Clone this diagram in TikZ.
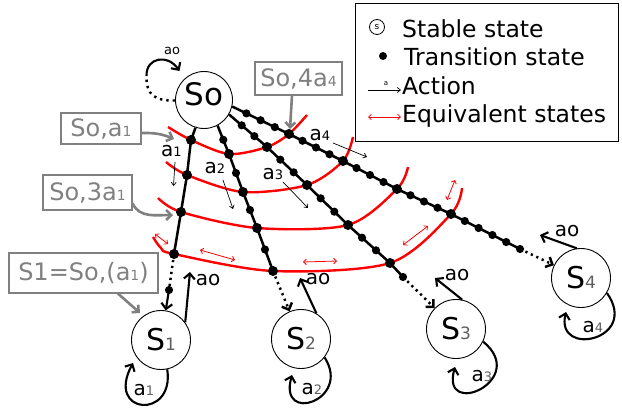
\documentclass[tikz,border=0pt]{standalone}
\usepackage{fontspec}
\setmainfont{DejaVu Sans}
\usetikzlibrary{arrows.meta,calc}
\definecolor{cgray}{RGB}{128,128,128}
\definecolor{dgray}{RGB}{95,95,95}
\newcommand{\fsz}[1]{\fontsize{#1}{#1}\selectfont}
\newcommand{\sm}[2]{{\fontsize{#1}{#1}\selectfont #2}}
\newcommand{\tdots}[3]{\foreach \i in {1,...,#3}{\fill ($(#1)!{\i/(#3+1)}!(#2)$) circle (4.1pt);}}
\begin{document}
\begin{tikzpicture}[x=1pt,y=-1pt,
  state/.style={circle,draw,line width=0.9pt,minimum size=59pt,inner sep=0pt},
  ray/.style={line width=2.5pt},
  dotseg/.style={line width=2.5pt,dash pattern=on 2.2pt off 3.8pt},
  eqarc/.style={red,line width=2.4pt},
  eqarr/.style={red,line width=0.8pt,{Straight Barb[length=2.8pt,width=5.5pt]}-{Straight Barb[length=2.8pt,width=5.5pt]}},
  act/.style={line width=0.7pt,-{Straight Barb[length=3.2pt,width=5pt]}},
  bigtip/.style={-{Straight Barb[length=5.5pt,width=11pt]}},
  bigarr/.style={line width=2.1pt,bigtip},
  callout/.style={draw=cgray,line width=1.2pt,text=cgray,inner sep=0pt,font=\fsz{24}},
  callarr/.style={draw=cgray,line width=2.6pt,-{Straight Barb[length=5pt,width=10pt]}},
  lbl/.style={inner sep=0pt,font=\fsz{20}},
  legtext/.style={anchor=base west,inner sep=0pt,font=\fsz{23.5}},
]
\useasboundingbox (0,0) rectangle (622,410);

% ---------- states
\node[state,minimum size=57pt,text depth=12pt,font=\fsz{31}] (S0) at (204,100) {So};
\node[state] (S1) at (161,340) {\fsz{30}S\sm{17}{\textcolor{dgray}{1}}};
\node[state] (S2) at (301,339) {\fsz{30}S\sm{17}{\textcolor{dgray}{2}}};
\node[state] (S3) at (456,329) {\fsz{30}S\sm{17}{\textcolor{dgray}{3}}};
\node[state] (S4) at (581,278) {\fsz{30}S\sm{17}{\textcolor{dgray}{4}}};

% ---------- ray coordinates
\coordinate (r1s) at (S0.-107);
\coordinate (r2s) at (S0.-62);
\coordinate (r3s) at (S0.-30);
\coordinate (r4s) at (S0.-13);
\coordinate (r1a) at (191,140); \coordinate (r1b) at (187,175);
\coordinate (r1c) at (181,212); \coordinate (r1d) at (174,254);
\coordinate (r1e) at (169,290);
\coordinate (r2a) at (229,154); \coordinate (r2b) at (243,192);
\coordinate (r2c) at (257,228); \coordinate (r2d) at (273,271);
\coordinate (r3a) at (267,147); \coordinate (r3b) at (307,185);
\coordinate (r3c) at (348,225); \coordinate (r3d) at (390,263);
\coordinate (r3e) at (403,277);
\coordinate (r4a) at (289,134); \coordinate (r4b) at (343,161);
\coordinate (r4c) at (397,189); \coordinate (r4d) at (451,214);
\coordinate (r4e) at (520,249);

% ---------- equivalence arcs
\coordinate (e1l) at (168,127); \coordinate (e1r) at (307,115);
\coordinate (e2l) at (166,162); \coordinate (e2r) at (353,137);
\coordinate (e3l) at (158,198); \coordinate (e3r) at (408,167);
\coordinate (e4l) at (153,237); \coordinate (e4m) at (161,248); \coordinate (e4r) at (462,188);
\draw[eqarc] plot[smooth] coordinates {(e1l) (r1a) (r2a) (r3a) (r4a) (e1r)};
\draw[eqarc] plot[smooth] coordinates {(e2l) (r1b) (r2b) (r3b) (r4b) (e2r)};
\draw[eqarc] plot[smooth] coordinates {(e3l) (r1c) (r2c) (r3c) (r4c) (e3r)};
\draw[eqarc] plot[smooth] coordinates {(e4l) (e4m) (r1d) (r2d) (r3d) (r4d) (e4r)};

% ---------- rays
\draw[ray] (r1s) -- (r1a) -- (r1b) -- (r1c) -- (r1d);
\draw[dotseg] (r1d) -- (r1e);
\draw[bigarr] (r1e) -- (S1);
\draw[ray] (r2s) -- (r2a) -- (r2b) -- (r2c) -- (r2d);
\draw[dotseg,bigtip] (r2d) -- (S2);
\draw[ray] (r3s) -- (r3a) -- (r3b) -- (r3c) -- (r3d) -- (r3e);
\draw[dotseg,bigtip] (r3e) -- (S3);
\draw[ray] (r4s) -- (r4a) -- (r4b) -- (r4c) -- (r4d) -- (r4e);
\draw[dotseg,bigtip] (r4e) -- (S4);

% ---------- transition-state dots
\foreach \p in {r1a,r1b,r1c,r1d,r2a,r2b,r2c,r2d,r3a,r3b,r3c,r3d,r4a,r4b,r4c,r4d}
  \fill (\p) circle (5pt);
\foreach \p in {r1e,r3e,r4e} \fill (\p) circle (4.1pt);
\tdots{r2s}{r2a}{1}\tdots{r2a}{r2b}{1}\tdots{r2b}{r2c}{1}\tdots{r2c}{r2d}{1}
\tdots{r3s}{r3a}{2}\tdots{r3a}{r3b}{2}\tdots{r3b}{r3c}{2}\tdots{r3c}{r3d}{2}
\tdots{r4s}{r4a}{3}\tdots{r4a}{r4b}{3}\tdots{r4b}{r4c}{3}\tdots{r4c}{r4d}{3}
\tdots{r4d}{r4e}{4}

% ---------- equivalent-state arrows
\draw[eqarr] (155,234) -- (168,244);
\draw[eqarr] (200,250) -- (235,260);
\draw[eqarr] (303,262) -- (337,261);
\draw[eqarr] (403,245) -- (428,226);
\draw[eqarr] (447,200) -- (455,180);

% ---------- action labels on rays
\node[lbl] (A1) at (171.5,151) {a\sm{13}{1}};
\coordinate (A1s) at (175,162); \coordinate (A1e) at (173.5,186);
\draw[act] (A1s) -- (A1e);
\node[lbl] (A2) at (215,168) {a\sm{13}{2}};
\coordinate (A2s) at (223,180); \coordinate (A2e) at (233,209);
\draw[act] (A2s) -- (A2e);
\node[lbl] (A3) at (273,174) {a\sm{13}{3}};
\coordinate (A3s) at (283,182); \coordinate (A3e) at (308,208);
\draw[act] (A3s) -- (A3e);
\node[lbl] (A4) at (320,135) {a\sm{13}{4}};
\coordinate (A4s) at (333,143); \coordinate (A4e) at (367,157);
\draw[act] (A4s) -- (A4e);

% ---------- S0 self loop
\coordinate (l0m) at (146.5,76); \coordinate (l0e) at (179.5,71);
\draw[line width=2.4pt,dash pattern=on 2.4pt off 4pt] (S0.181) .. controls (155,101) and (146,95) .. (l0m);
\draw[bigarr] (l0m) .. controls (146,57) and (168,54) .. (l0e);
\node[inner sep=0pt,font=\fsz{13}] (ao0) at (172,51) {ao};

% ---------- outgoing ao arrows
\coordinate (o1) at (190,272); \draw[bigarr] (S1.36) -- (o1);
\node[lbl] (ao1) at (208,280) {ao};
\coordinate (o2) at (300,278); \draw[bigarr] (S2.59) -- (o2);
\node[lbl] (ao2) at (318,279) {ao};
\coordinate (o3) at (435,278); \draw[bigarr] (S3.78) -- (o3);
\node[lbl] (ao3) at (457,275) {ao};
\coordinate (o4) at (540,235); \draw[bigarr] (S4.98) -- (o4);
\node[lbl] (ao4) at (567,231) {ao};

% ---------- self loops on S1..S4
\coordinate (l1) at (133,363);
\draw[bigarr] (S1.-78) .. controls (175,420) and (105,415) .. (l1);
\node[lbl] (L1) at (144,390) {a\sm{13}{\textcolor{dgray}{1}}};
\coordinate (l2) at (292,375);
\draw[bigarr] (S2.-38) .. controls (352,400) and (278,425) .. (l2);
\node[lbl] (L2) at (312,389) {a\sm{13}{\textcolor{dgray}{2}}};
\coordinate (l3) at (455,367);
\draw[bigarr] (S3.-25) .. controls (530,380) and (440,420) .. (l3);
\node[lbl] (L3) at (482,376) {a\sm{13}{\textcolor{dgray}{3}}};
\coordinate (l4) at (566,312);
\draw[bigarr] (S4.-30) .. controls (640,340) and (555,358) .. (l4);
\node[lbl] (L4) at (593,327) {a\sm{13}{\textcolor{dgray}{4}}};

% ---------- callouts
\node[callout,minimum width=80pt,minimum height=31pt] (C1) at (101,128.5) {So,a\sm{14}{1}};
\node[callout,minimum width=89pt,minimum height=35pt] (C2) at (87.5,192.5) {So,3a\sm{14}{1}};
\node[callout,minimum width=149pt,minimum height=40pt] (C3) at (83.5,273) {S1=So,(a\sm{14}{1})};
\node[callout,minimum width=87pt,minimum height=33pt] (C4) at (298.5,78.5) {So,4a\sm{14}{4}};
\coordinate (p1) at (174,139);
\draw[callarr] ([yshift=-4.5pt]C1.east) to[bend left=12] (p1);
\coordinate (p2) at (173,215);
\draw[callarr] ([yshift=-11pt]C2.east) to[out=-65,in=180] (p2);
\coordinate (p3) at (140,313);
\draw[callarr] ([xshift=34.5pt]C3.south) -- (p3);
\coordinate (p4) at (290,129);
\draw[callarr] ([xshift=-6.5pt]C4.south) -- (p4);

% ---------- legend
\node[draw,line width=1.3pt,minimum width=263pt,minimum height=138pt,inner sep=0pt,anchor=north west] (leg) at (355,3) {};
\node[circle,draw,line width=0.8pt,minimum size=15pt,inner sep=0pt,font=\fsz{9}] (lgS) at (377,27) {s};
\node[legtext] (lg1) at (402,37) {Stable state};
\node[circle,fill,inner sep=0pt,minimum size=8pt] (lgD) at (383,56) {};
\node[legtext] (lg2) at (404,65) {Transition state};
\coordinate (la1) at (368,90); \coordinate (la2) at (401,90);
\draw[act] (la1) -- (la2);
\node[inner sep=0pt,font=\fsz{7}] (lgA) at (386,84) {a};
\node[legtext] (lg3) at (402,94) {Action};
\coordinate (le1) at (368,117); \coordinate (le2) at (401,117);
\draw[eqarr] (le1) -- (le2);
\node[legtext] (lg4) at (402,122) {Equivalent states};
\end{tikzpicture}
\end{document}
